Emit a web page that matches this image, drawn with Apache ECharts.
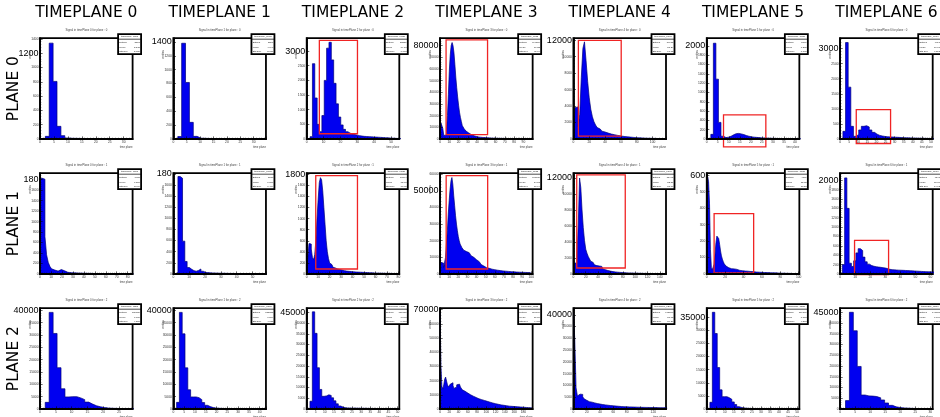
<!DOCTYPE html>
<html>
<head>
<meta charset="utf-8">
<script src="https://cdn.jsdelivr.net/npm/echarts@6/dist/echarts.min.js"></script>
<style>
  html, body { margin: 0; padding: 0; background: #fff; }
  #c { width: 940px; height: 417px; }
</style>
</head>
<body>
<div id="c"></div>
<script>
// Column and row headings
const timePlanes = ['TIMEPLANE 0', 'TIMEPLANE 1', 'TIMEPLANE 2', 'TIMEPLANE 3', 'TIMEPLANE 4', 'TIMEPLANE 5', 'TIMEPLANE 6'];
const planes = ['PLANE 0', 'PLANE 1', 'PLANE 2'];

// Histogram contents (entries per bin), one array per plane / time plane
const p0t0 = [0, 37, 1340, 805, 177, 47, 14, 10, 9, 8, 7, 6, 6, 5, 5, 4, 4, 4, 3, 3, 3, 2, 2];
const p0t1 = [0, 35, 1380, 815, 240, 38, 12, 10, 8, 7, 6, 5, 5, 4, 4, 3, 3, 3, 2, 2, 2, 2, 1];
const p0t2 = [0, 80, 2570, 1400, 500, 250, 800, 2000, 3100, 3300, 2700, 1900, 1200, 750, 480, 330, 250, 200, 170, 150, 130, 115, 100, 90, 85, 80, 75, 70, 65, 60, 55, 50, 45, 40, 35, 30, 25, 20, 15, 12];
const p0t3 = [2000, 13700, 13700, 9000, 3000, 2000, 3500, 8000, 20000, 38000, 58000, 72000, 80000, 82600, 80000, 74000, 64000, 53000, 44000, 36000, 29000, 23000, 18500, 15000, 11500, 10000, 8800, 7800, 6800, 6000, 5200, 4600, 4200, 3700, 3300, 3000, 2700, 2400, 2200, 2000, 1800, 1700, 1600, 1500, 1400, 1350, 1300, 1250, 1200, 1150, 1100, 1000, 950, 900, 850, 800, 780, 750, 720, 700, 680, 650, 620, 600, 580, 560, 540, 520, 500, 480, 460, 450, 440, 430, 420, 410, 400, 390, 380, 370, 360, 350, 340, 330, 320, 310, 300, 290, 280, 270, 260, 250, 245, 240, 235, 230, 225, 220, 215, 210];
const p0t4 = [500, 3800, 3900, 1500, 3000, 7500, 11000, 11800, 9500, 7000, 5000, 3600, 2700, 2100, 1700, 1400, 1200, 1050, 950, 850, 780, 720, 660, 600, 560, 520, 480, 440, 400, 370, 340, 310, 290, 270, 250, 230, 210, 195, 180, 165, 150, 140, 130, 120, 110, 100, 95, 90, 85, 80, 75, 70, 65, 60, 55, 50, 45, 40, 35];
const p0t5 = [0, 100, 2057, 1285, 357, 60, 30, 40, 60, 90, 115, 120, 110, 95, 75, 60, 48, 40, 35, 30, 25, 22, 20, 18, 16, 14, 12, 11, 10, 9, 8, 7, 6, 5, 5, 4, 4, 3];
const p0t6 = [0, 255, 3200, 1720, 420, 90, 150, 300, 420, 440, 400, 300, 220, 160, 120, 100, 85, 75, 70, 65, 60, 55, 50, 45, 40, 38, 35, 32, 30, 27, 25, 22, 20, 18, 16, 14];

const p1t0 = [1780, 1830, 1810, 717, 368, 222, 146, 100, 75, 60, 55, 75, 85, 80, 60, 40, 32, 28, 26, 24, 22, 20, 19, 18, 17, 16, 15, 14, 13, 12, 12, 11, 10, 10, 9, 9, 8, 8, 7, 7, 6, 6, 6, 5, 5, 5, 4, 4, 4, 4, 3, 3, 3, 3, 2, 2, 2];
const p1t1 = [0, 30, 1750, 1720, 590, 225, 116, 85, 60, 50, 65, 90, 50, 30, 25, 22, 20, 18, 16, 15, 14, 13, 12, 11, 10, 10, 9, 9, 8, 8, 7, 7, 6, 6, 5, 5, 5, 4, 4, 4, 4];
const p1t2 = [0, 300, 550, 540, 450, 300, 260, 350, 600, 1000, 1350, 1650, 1740, 1700, 1500, 1200, 900, 600, 400, 280, 200, 170, 140, 120, 110, 100, 90, 85, 80, 75, 70, 65, 60, 55, 52, 50, 48, 46, 44, 42, 40, 38, 36, 35, 34, 33, 32, 31, 30, 29, 28, 27, 26, 25, 24, 23, 22, 21, 20, 19, 18, 17, 16, 15, 15, 14, 14, 13, 13, 12, 12, 11, 11, 10, 10, 9, 9, 8, 8, 7, 7];
const p1t3 = [5000, 7000, 7000, 6500, 4000, 5000, 10000, 18000, 26000, 36000, 44000, 51000, 56000, 58000, 54000, 47000, 41000, 35000, 30000, 26000, 22500, 20000, 18000, 16800, 15800, 15000, 14300, 13800, 13500, 13300, 13200, 12800, 12200, 11600, 11000, 10500, 10000, 9500, 9000, 8600, 8200, 7800, 7400, 6800, 6200, 5700, 5200, 4800, 4400, 4100, 3800, 3600, 3500, 3400, 3200, 3000, 2900, 2800, 2700, 2600, 2500, 2400, 2300, 2200, 2100, 2050, 2000, 1900, 1850, 1800, 1750, 1700, 1650, 1600, 1550, 1500, 1450, 1400, 1380, 1350, 1300, 1250, 1200, 1180, 1150, 1120, 1100, 1080, 1050, 1020, 1000, 980, 960, 940, 920, 900, 880, 860, 840, 820, 800];
const p1t4 = [600, 1400, 1300, 2500, 6500, 12000, 10800, 8000, 5800, 4200, 3100, 2600, 2200, 1900, 1600, 1450, 1350, 1150, 1050, 1000, 1000, 1050, 950, 750, 620, 540, 480, 430, 390, 360, 330, 300, 280, 260, 240, 225, 210, 200, 190, 180, 170, 160, 150, 140, 135, 130, 125, 120, 115, 110, 105, 100, 95, 90, 85, 80, 78, 75, 72, 70, 68, 65, 62, 60, 58, 55, 52, 50, 48, 45, 42, 40, 38, 36, 34];
const p1t5 = [200, 590, 560, 430, 150, 40, 25, 30, 60, 120, 190, 230, 235, 215, 180, 140, 110, 90, 75, 62, 55, 48, 42, 38, 35, 33, 32, 31, 30, 31, 30, 29, 28, 26, 24, 22, 21, 20, 20, 19, 19, 18, 18, 17, 17, 16, 16, 15, 15, 14, 14, 13, 13, 12, 12, 12, 11, 11, 11, 10, 10, 10, 9, 9, 9, 9, 8, 8, 8, 8, 7, 7, 7, 7, 7, 6, 6, 6, 6, 6, 5, 5, 5, 5, 5, 5, 4, 4, 4, 4, 4, 4, 3, 3, 3, 3, 3, 3, 3, 3];
const p1t6 = [30, 200, 2050, 1400, 230, 160, 280, 450, 540, 500, 360, 260, 210, 180, 165, 155, 148, 142, 135, 128, 115, 100, 92, 88, 85, 82, 80, 78, 75, 72, 70, 67, 64, 61, 58, 55, 52, 50, 48, 46, 44, 42];

const p2t0 = [0, 2700, 39200, 30650, 16750, 8200, 4900, 5000, 5000, 4500, 3800, 2800, 2000, 1300, 900, 600, 400, 300, 250, 200, 180, 150, 130, 110, 100];
const p2t1 = [0, 2700, 39200, 30500, 16700, 7800, 4900, 4900, 4600, 3800, 2600, 1500, 1000, 600, 400, 300, 250, 200, 150, 120, 100, 90, 80, 70, 60, 50, 40, 30, 25, 20, 20, 15, 15];
const p2t2 = [0, 3600, 45200, 35200, 19200, 9100, 5900, 6100, 6600, 6300, 5200, 3800, 2400, 1400, 900, 600, 500, 450, 400, 400, 380, 360, 340, 320, 300, 280, 260, 240, 220, 200, 180, 160, 140, 120, 100, 90, 80, 70, 60];
const p2t3 = [68000, 30000, 16000, 14000, 17000, 21000, 22500, 21500, 17000, 15500, 16000, 17500, 18700, 18500, 16500, 14500, 14500, 15500, 17000, 17800, 17500, 16500, 15500, 14500, 13500, 13000, 12500, 12000, 11600, 11200, 10800, 10400, 10000, 9600, 9300, 9000, 8700, 8400, 8100, 7800, 7500, 7200, 7000, 6800, 6600, 6400, 6200, 6000, 5800, 5600, 5400, 5200, 5000, 4800, 4600, 4400, 4200, 4050, 3900, 3750, 3600, 3450, 3300, 3150, 3000, 2900, 2800, 2700, 2600, 2500, 2400, 2300, 2200, 2100, 2000, 1950, 1900, 1850, 1800, 1750, 1700, 1650, 1600, 1550, 1500, 1450, 1400, 1350, 1300, 1250, 1200, 1150, 1100, 1050, 1000, 950, 900, 870, 840, 800];
const p2t4 = [41000, 30000, 9000, 5500, 6300, 6500, 6200, 5200, 4300, 3700, 3300, 3100, 3000, 2900, 2800, 2600, 2400, 2300, 2200, 2100, 2000, 1900, 1800, 1750, 1700, 1600, 1500, 1450, 1400, 1350, 1300, 1250, 1200, 1150, 1100, 1050, 1000, 980, 960, 940, 920, 900, 880, 860, 840, 820, 800, 780, 760, 740, 720, 700, 690, 680, 670, 660, 650, 640, 630, 620, 610, 600, 590, 580, 570, 560, 550, 540, 530, 520];
const p2t5 = [0, 2560, 36900, 28800, 15800, 7300, 4700, 4700, 4300, 3700, 2700, 1700, 900, 600, 400, 300, 250, 200, 180, 160, 140, 120, 100, 90, 80, 70, 60, 50, 45, 40, 35, 30, 25, 20, 18, 15, 12];
const p2t6 = [0, 3900, 45000, 36400, 19800, 6500, 6100, 6000, 5800, 5200, 4200, 2800, 1700, 1000, 700, 500, 400, 300, 250, 200, 150, 120, 100];

const counts = [
  [p0t0, p0t1, p0t2, p0t3, p0t4, p0t5, p0t6],
  [p1t0, p1t1, p1t2, p1t3, p1t4, p1t5, p1t6],
  [p2t0, p2t1, p2t2, p2t3, p2t4, p2t5, p2t6]
];

// Binning: lower edge of the first bin and bin width, in time-plane units
const binStart = [
  [0.5, 0.2, 0.6, 0, 0, 0.7, 0.1],
  [0, 0, 0, 0, 0, 0, 0],
  [0.4, 0.2, 0.5, 0, 0, 0.4, 0.5]
];
const binWidth = [
  [1.4, 1.45, 1.4, 1, 2, 1.15, 1.45],
  [1.5, 1.45, 1, 1, 2, 1, 1.5],
  [1.25, 1.3, 1.3, 2, 2, 1.35, 1.3]
];

// Axis ranges and tick spacing
const xMax = [
  [33.2, 34.6, 54.9, 100, 117, 42, 51],
  [84.5, 58.5, 80.8, 101.5, 150, 100.7, 61.5],
  [29.3, 42.9, 51, 200, 139, 51.3, 30.8]
];
const xStep = [
  [5, 5, 10, 10, 20, 5, 5],
  [10, 10, 10, 10, 20, 20, 10],
  [5, 5, 5, 20, 20, 5, 5]
];
const yMax = [
  [1409, 1453, 3440, 86300, 12240, 2165, 3344],
  [1924, 1810, 1820, 60600, 12600, 612, 2150],
  [40900, 40900, 46900, 71000, 42800, 38460, 46900]
];
const yStep = [
  [200, 200, 500, 10000, 2000, 200, 500],
  [200, 200, 200, 10000, 2000, 100, 200],
  [5000, 5000, 5000, 10000, 5000, 5000, 5000]
];
// Enlarged y tick label of each panel: tick value and the text shown there
const bigTick = [
  [1200, 1400, 3000, 80000, 12000, 2000, 3000],
  [1800, 1800, 1800, 50000, 12000, 600, 2000],
  [40000, 40000, 45000, 70000, 40000, 35000, 45000]
];
const bigText = [
  ['1200', '1400', '3000', '80000', '12000', '2000', '3000'],
  ['180', '180', '1800', '50000', '12000', '600', '2000'],
  ['40000', '40000', '45000', '70000', '40000', '35000', '45000']
];

// Selection windows: [plane, time plane, x from, x to, y from, y to]
const windows = [
  [0, 2, 7.5, 30.1, 180, 3364],
  [0, 3, 6.5, 51.3, 3700, 84900],
  [0, 4, 6.3, 60.4, 360, 11980],
  [0, 5, 7.6, 26.8, -171, 520],
  [0, 6, 8.9, 27.8, -149, 977],
  [1, 2, 7.9, 44.3, 90, 1778],
  [1, 3, 6.7, 52.2, 3000, 59200],
  [1, 4, 5.4, 84, 750, 12400],
  [1, 5, 8, 51, 6, 366],
  [1, 6, 9.6, 32.2, -15, 716]
];

// Frame layout (pixels)
const FRAME_X0 = 40, COL_STEP = 133.35, FRAME_W = 92.6;
const FRAME_Y0 = 38.2, ROW_STEP = 135, FRAME_H = 100.8;

const TINY = 3.3;
const grids = [], xAxes = [], yAxes = [], series = [], elements = [];

function statText(hist, s0, w) {
  let n = 0, sx = 0, sxx = 0;
  hist.forEach((v, k) => {
    const xc = s0 + (k + 0.5) * w;
    n += v; sx += v * xc; sxx += v * xc * xc;
  });
  const mean = sx / n;
  const sd = Math.sqrt(Math.max(sxx / n - mean * mean, 0));
  return { n: Math.round(n), mean: mean.toPrecision(4), sd: sd.toPrecision(4) };
}

for (let r = 0; r < 3; r++) {
  for (let c = 0; c < 7; c++) {
    const i = r * 7 + c;
    const left = FRAME_X0 + c * COL_STEP;
    const top = FRAME_Y0 + r * ROW_STEP;
    const right = left + FRAME_W, bottom = top + FRAME_H;

    grids.push({
      left: left, top: top, width: FRAME_W, height: FRAME_H,
      show: true, borderColor: '#000', borderWidth: 1.8, backgroundColor: '#fff'
    });

    xAxes.push({
      type: 'value', gridIndex: i, min: 0, max: xMax[r][c], interval: xStep[r][c], z: 5,
      axisLine: { show: true, onZero: false, lineStyle: { color: '#000', width: 1.8 } },
      axisTick: { show: true, inside: true, length: 2.6, lineStyle: { color: '#000', width: 0.6 } },
      minorTick: { show: true, splitNumber: 5, length: 1.3, lineStyle: { color: '#000', width: 0.5 } },
      splitLine: { show: false },
      axisLabel: { fontSize: TINY, margin: 2, color: '#333', fontFamily: 'Liberation Sans', showMaxLabel: false, showMinLabel: true }
    });

    const bt = bigTick[r][c], btxt = bigText[r][c];
    yAxes.push({
      type: 'value', gridIndex: i, min: 0, max: yMax[r][c], interval: yStep[r][c], z: 5,
      axisLine: { show: true, onZero: false, lineStyle: { color: '#000', width: 1.8 } },
      axisTick: { show: true, inside: true, length: 2.6, lineStyle: { color: '#000', width: 0.6 } },
      minorTick: { show: true, splitNumber: 5, length: 1.3, lineStyle: { color: '#000', width: 0.5 } },
      splitLine: { show: false },
      axisLabel: {
        margin: 1.5, showMaxLabel: false, showMinLabel: true,
        formatter: v => (v === bt ? '{b|' + btxt + '}' : '{s|' + v + '}'),
        rich: {
          b: { fontSize: 9, color: '#000', fontFamily: 'Liberation Sans' },
          s: { fontSize: TINY, color: '#333', fontFamily: 'Liberation Sans' }
        }
      }
    });

    // histogram drawn as a stepped outline with filled area
    const hist = counts[r][c], s0 = binStart[r][c], w = binWidth[r][c];
    const pts = [[s0, 0]];
    hist.forEach((v, k) => pts.push([s0 + k * w, v]));
    const xEnd = s0 + hist.length * w;
    pts.push([xEnd, hist[hist.length - 1]]);
    pts.push([xEnd, 0]);
    series.push({
      type: 'line', xAxisIndex: i, yAxisIndex: i, step: 'end', symbol: 'none',
      data: pts, animation: false, z: 2,
      lineStyle: { color: '#00007a', width: 0.7 },
      areaStyle: { color: '#0000f0', opacity: 1 }
    });

    // selection windows
    const win = windows.filter(b => b[0] === r && b[1] === c).map(b => [b[2], b[3], b[4], b[5]]);
    if (win.length) {
      series.push({
        type: 'custom', xAxisIndex: i, yAxisIndex: i, data: win, clip: false, z: 4, animation: false,
        encode: { x: [0, 1], y: [2, 3] },
        renderItem: (params, api) => {
          const a = api.coord([api.value(0), api.value(3)]);
          const b = api.coord([api.value(1), api.value(2)]);
          return {
            type: 'rect',
            shape: { x: a[0], y: a[1], width: b[0] - a[0], height: b[1] - a[1] },
            style: { fill: 'none', stroke: '#f02424', lineWidth: 1.3 }
          };
        }
      });
    }

    // small histogram title
    elements.push({
      type: 'text', x: (left + right) / 2, y: top - 7.5, z: 10,
      style: { text: 'Signal in timePlane ' + c + ' for plane : ' + r, fontSize: 2.8, fontFamily: 'Liberation Sans', fill: '#444', align: 'center', verticalAlign: 'middle' }
    });
    // axis titles
    elements.push({
      type: 'text', x: right, y: bottom + 8.5, z: 10,
      style: { text: 'time plane', fontSize: 2.8, fontFamily: 'Liberation Sans', fill: '#444', align: 'right', verticalAlign: 'middle' }
    });
    elements.push({
      type: 'text', x: left - 10, y: top + 16, rotation: Math.PI / 2, z: 10,
      style: { text: 'entries', fontSize: 2.8, fontFamily: 'Liberation Sans', fill: '#444', align: 'center', verticalAlign: 'middle' }
    });

    // statistics box
    const st = statText(hist, s0, w);
    const bx = right - 14.5, by = top - 4, bw = 23, bh = 20;
    const rows = [['Entries', String(st.n)], ['Mean', st.mean], ['Std Dev', st.sd]];
    const kids = [
      { type: 'rect', shape: { x: 0, y: 0, width: bw, height: bh }, style: { fill: '#fff', stroke: '#000', lineWidth: 1.8 } },
      { type: 'line', shape: { x1: 0, y1: 5, x2: bw, y2: 5 }, style: { stroke: '#000', lineWidth: 0.7 } },
      { type: 'text', x: bw / 2, y: 2.6, style: { text: 'timePlane_p' + r + '[' + c + ']', fontSize: 2.4, fill: '#222', align: 'center', verticalAlign: 'middle' } }
    ];
    rows.forEach((rw, k) => {
      kids.push({ type: 'text', x: 1.2, y: 8.5 + k * 4.2, style: { text: rw[0], fontSize: 2.4, fill: '#222', align: 'left', verticalAlign: 'middle' } });
      kids.push({ type: 'text', x: bw - 1.2, y: 8.5 + k * 4.2, style: { text: rw[1], fontSize: 2.4, fill: '#222', align: 'right', verticalAlign: 'middle' } });
    });
    elements.push({ type: 'group', x: bx, y: by, z: 20, children: kids });
  }
}

// column headings
timePlanes.forEach((t, c) => {
  elements.push({
    type: 'text', x: FRAME_X0 + c * COL_STEP + FRAME_W / 2, y: 13.3, z: 10,
    style: { text: t, fontSize: 15.5, fontFamily: 'DejaVu Sans', fill: '#000', align: 'center', verticalAlign: 'middle' }
  });
});
// row headings
planes.forEach((p, r) => {
  elements.push({
    type: 'text', x: 14, y: FRAME_Y0 + r * ROW_STEP + FRAME_H / 2, rotation: Math.PI / 2, z: 10,
    style: { text: p, fontSize: 15.5, fontFamily: 'DejaVu Sans', fill: '#000', align: 'center', verticalAlign: 'middle' }
  });
});

const chart = echarts.init(document.getElementById('c'), null, { renderer: 'canvas' });
chart.setOption({
  animation: false,
  backgroundColor: '#fff',
  grid: grids,
  xAxis: xAxes,
  yAxis: yAxes,
  series: series,
  graphic: { elements: elements }
});
</script>
</body>
</html>
